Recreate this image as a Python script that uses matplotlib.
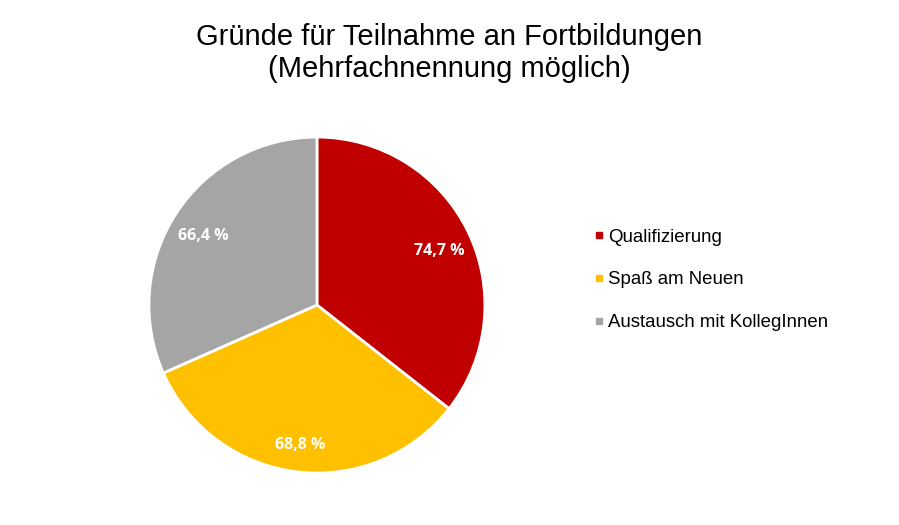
import numpy as np
import matplotlib.pyplot as plt
from matplotlib.lines import Line2D

# data
labels = ["Qualifizierung", "Spaß am Neuen", "Austausch mit KollegInnen"]
values = [74.7, 68.8, 66.4]
value_labels = ["74,7 %", "68,8 %", "66,4 %"]
colors = ["#C00000", "#FFC000", "#A5A5A5"]

fig = plt.figure(figsize=(8.99, 5.25), dpi=100)
ax = fig.add_axes([0.1657, 0.099, 0.3737, 0.64])

wedges, _ = ax.pie(values, colors=colors, startangle=90, counterclock=False,
                   wedgeprops=dict(edgecolor="white", linewidth=2))
ax.set_xlim(-1, 1)
ax.set_ylim(-1, 1)

# value labels inside the wedges
total = sum(values)
start = 90
for v, txt in zip(values, value_labels):
    mid = np.deg2rad(start - v / total * 360 / 2)
    start -= v / total * 360
    ax.text(0.81 * np.cos(mid), 0.81 * np.sin(mid) - 0.03, txt, ha="center", va="center",
            color="white", fontsize=11.5, fontweight="bold", family="Open Sans")

fig.text(0.5, 0.899, "Gründe für Teilnahme an Fortbildungen\n(Mehrfachnennung möglich)",
         ha="center", va="center", fontsize=21, family="Liberation Sans", linespacing=1.17)

handles = [Line2D([], [], marker="s", linestyle="", color=c, markersize=5) for c in colors]
fig.legend(handles, labels, loc="center left", bbox_to_anchor=(0.642, 0.467),
           frameon=False, prop=dict(family="Liberation Sans", size=13.4),
           handlelength=0.5, handletextpad=0.25, labelspacing=1.38)

fig.savefig("out.png", dpi=100)
